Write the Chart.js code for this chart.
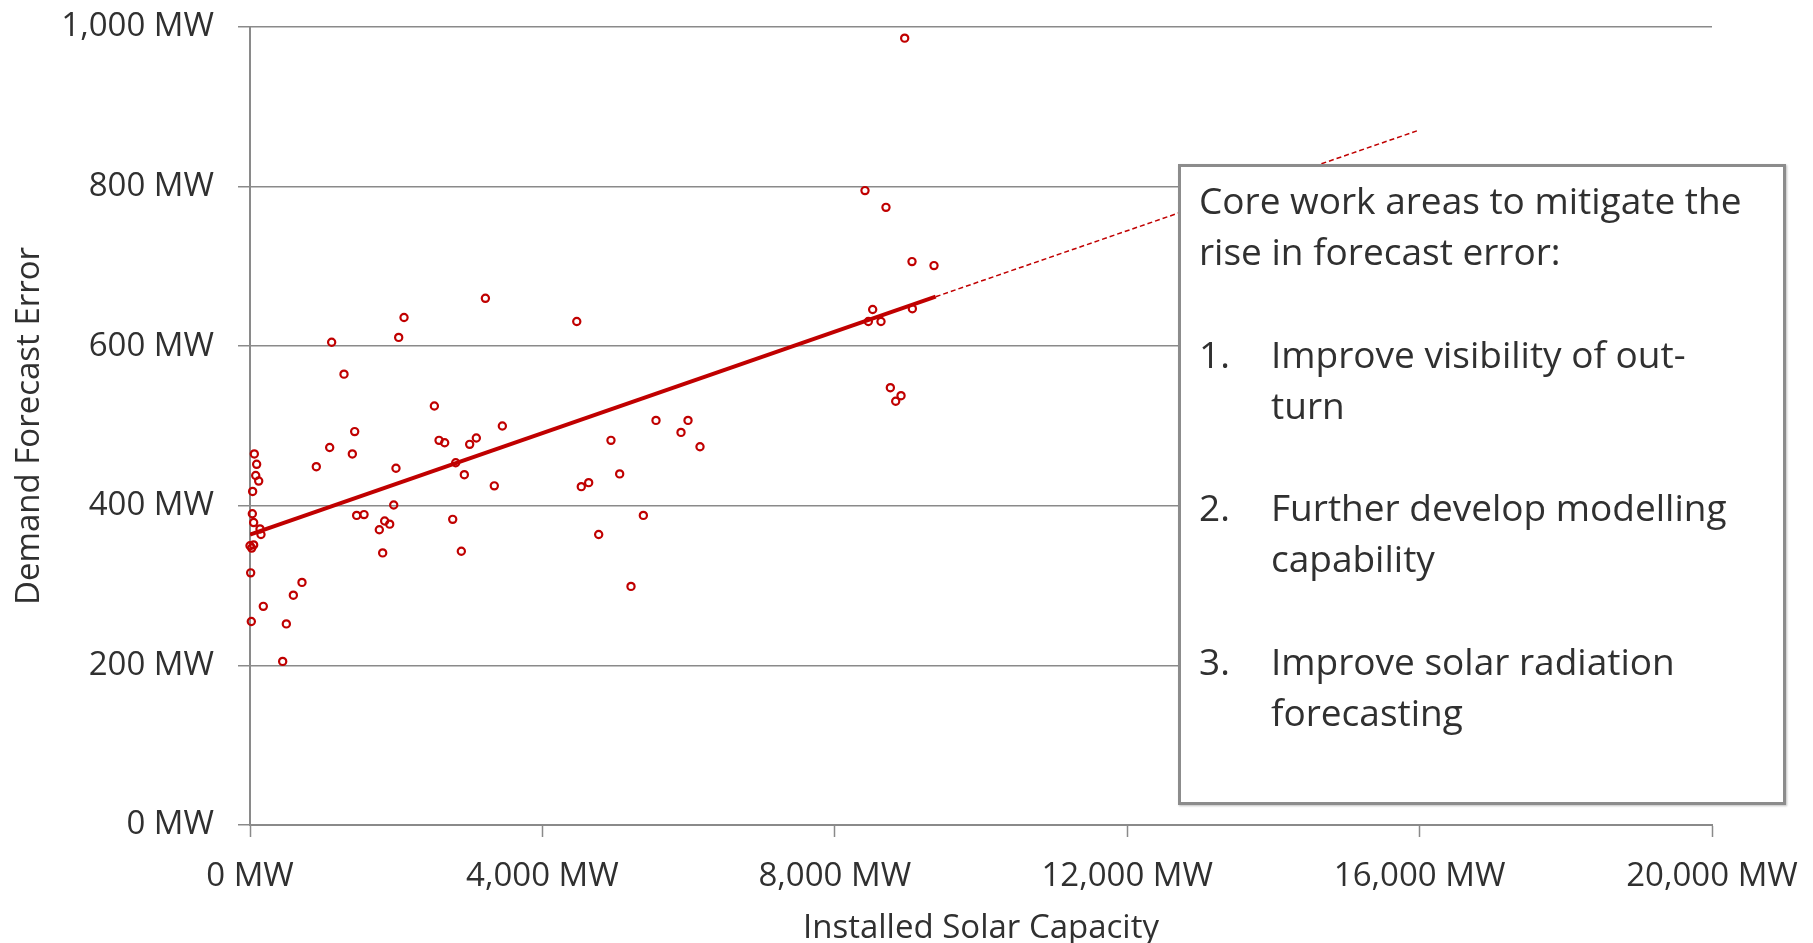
<!DOCTYPE html>
<html>
<head>
<meta charset="utf-8">
<script src="https://cdn.jsdelivr.net/npm/chart.js@4.4.1/dist/chart.umd.min.js"></script>
<style>
  html, body { margin: 0; padding: 0; background: #ffffff; }
  #wrap { position: relative; width: 1813px; height: 943px; }
  #note {
    position: absolute; left: 1178px; top: 164px; width: 608px; height: 641px;
    box-sizing: border-box; border: 3.5px solid #8c8c8c; background: #ffffff;
    box-shadow: 1px 1px 2px rgba(0,0,0,0.25);
    font-family: 'Open Sans', sans-serif; font-size: 37px; line-height: 51.2px;
    color: #303030; padding: 7px 0 0 18px; white-space: nowrap;
  }
  .item { display: flex; }
  .num { width: 72px; flex: none; }
  .gap { height: 51.2px; }
</style>
</head>
<body>
<div id="wrap">
  <canvas id="chart" width="1813" height="943"></canvas>
  <div id="note">
    <div>Core work areas to mitigate the<br>rise in forecast error:</div>
    <div class="gap"></div>
    <div class="item"><span class="num">1.</span><span>Improve visibility of out-<br>turn</span></div>
    <div class="gap"></div>
    <div class="item"><span class="num">2.</span><span>Further develop modelling<br>capability</span></div>
    <div class="gap"></div>
    <div class="item"><span class="num">3.</span><span>Improve solar radiation<br>forecasting</span></div>
  </div>
</div>
<script>
// installed solar capacity (MW) and demand forecast error (MW)
const capacityMW = [
  3220, 4470, 2107, 2034, 1117, 1286, 2522, 3452, 1432, 2586,
  2663, 3096, 3005, 4938, 1090, 1400, 59, 91, 78, 119,
  36, 907, 1997, 2814, 2932, 3342, 4532, 4633, 5057, 1966,
  32, 1459, 1560, 50, 137, 150, 1842, 1911, 1769, 2773,
  4770, 0, 50, 23, 1815, 2891, 9, 5212, 711, 593,
  182, 18, 497, 447, 5554, 5992, 5896, 6156, 5381, 8518,
  8459, 8632, 9061, 8760, 8906, 8833, 8956, 8413, 8700, 9056,
  9357
];
const errorMW = [
  660, 631, 636, 611, 605, 565, 525, 500, 493, 482,
  479, 485, 477, 482, 473, 465, 465, 452, 438, 431,
  418, 449, 447, 454, 439, 425, 424, 429, 440, 401,
  390, 388, 389, 379, 371, 364, 381, 377, 370, 383,
  364, 350, 351, 347, 341, 343, 316, 299, 304, 288,
  274, 255, 252, 205, 507, 507, 492, 474, 388, 646,
  631, 631, 647, 548, 538, 531, 986, 795, 774, 706,
  701
];

// linear trend: solid over the data range, dashed projection beyond
const trendX = [0, 9380, 16000];
const trendY = [364, 662, 871];

const xTickValues = [0, 4000, 8000, 12000, 16000, 20000];
const yTickValues = [0, 200, 400, 600, 800, 1000];

const red = '#C00000';
const axisGrey = '#8a8a8a';
const textColor = '#303030';
const fontFamily = "'Open Sans', sans-serif";

const fmtMW = v => Number(v).toLocaleString('en-US') + ' MW';

const ctx = document.getElementById('chart').getContext('2d');

new Chart(ctx, {
  type: 'scatter',
  data: {
    datasets: [
      {
        label: 'Trend',
        data: [{ x: trendX[0], y: trendY[0] }, { x: trendX[1], y: trendY[1] }],
        showLine: true,
        borderColor: red,
        borderWidth: 4,
        pointRadius: 0,
        order: 1
      },
      {
        label: 'Trend projection',
        data: [{ x: trendX[1], y: trendY[1] }, { x: trendX[2], y: trendY[2] }],
        showLine: true,
        borderColor: red,
        borderWidth: 1.5,
        borderDash: [5, 3],
        pointRadius: 0,
        order: 1
      },
      {
        label: 'Demand forecast error',
        data: capacityMW.map((x, i) => ({ x: x, y: errorMW[i] })),
        pointStyle: 'circle',
        pointRadius: 3.6,
        pointBorderWidth: 2.2,
        pointBorderColor: red,
        pointBackgroundColor: 'rgba(0,0,0,0)',
        borderColor: red,
        clip: false,
        order: 2
      }
    ]
  },
  options: {
    responsive: false,
    animation: false,
    events: [],
    layout: {
      padding: { top: 27, right: 101, left: 0, bottom: 0 }
    },
    plugins: {
      legend: { display: false },
      tooltip: { enabled: false }
    },
    scales: {
      x: {
        type: 'linear',
        position: 'bottom',
        min: 0,
        max: 20000,
        afterBuildTicks: s => { s.ticks = xTickValues.map(v => ({ value: v })); },
        afterFit: s => { s.height = 118; s.paddingLeft = 0; s.paddingRight = 0; },
        grid: {
          drawOnChartArea: false,
          drawTicks: true,
          tickLength: 12,
          tickColor: axisGrey,
          tickWidth: 1.5
        },
        border: { display: true, color: axisGrey, width: 2 },
        ticks: {
          callback: v => fmtMW(v),
          font: { family: fontFamily, size: 33 },
          color: textColor,
          padding: 20,
          maxRotation: 0,
          autoSkip: false
        },
        title: {
          display: true,
          text: 'Installed Solar Capacity',
          font: { family: fontFamily, size: 33, lineHeight: 0.85 },
          color: textColor,
          padding: { top: 0, bottom: 0 }
        }
      },
      y: {
        min: 0,
        max: 1000,
        afterBuildTicks: s => { s.ticks = yTickValues.map(v => ({ value: v })); },
        afterFit: s => { s.width = 250; s.paddingTop = 0; s.paddingBottom = 0; },
        grid: {
          color: axisGrey,
          lineWidth: 1.5,
          drawTicks: true,
          tickLength: 12
        },
        border: { display: true, color: axisGrey, width: 2 },
        ticks: {
          callback: v => fmtMW(v),
          font: { family: fontFamily, size: 33 },
          color: textColor,
          padding: 24
        },
        title: {
          display: true,
          text: 'Demand Forecast Error',
          font: { family: fontFamily, size: 33 },
          color: textColor,
          padding: { top: 10, bottom: 0 }
        }
      }
    }
  }
});
</script>
</body>
</html>
